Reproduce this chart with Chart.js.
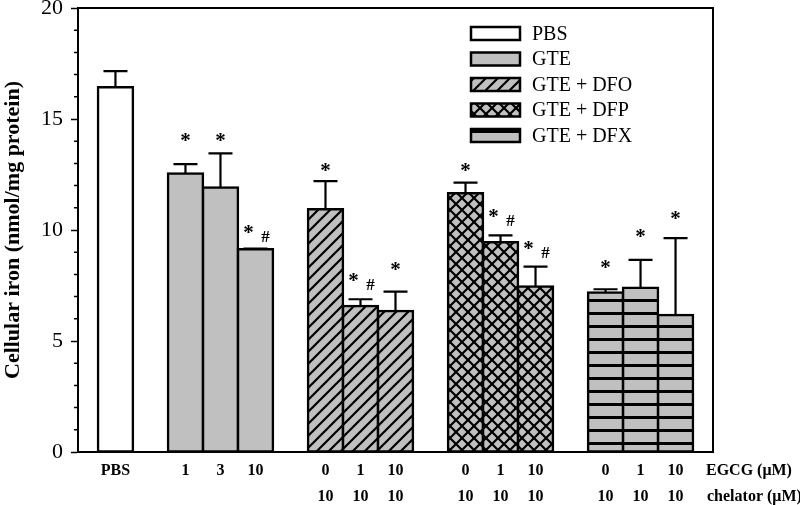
<!DOCTYPE html>
<html><head><meta charset="utf-8">
<script src="https://cdn.jsdelivr.net/npm/chart.js@4.4.0/dist/chart.umd.min.js"></script>
<style>html,body{margin:0;padding:0;background:#fff}</style>
</head><body>
<canvas id="c" width="800" height="505"></canvas>
<script>
// ---- data ----
const seriesNames = ['PBS', 'GTE', 'GTE + DFO', 'GTE + DFP', 'GTE + DFX'];
const pbsValues = [16.43];
const pbsErrors = [0.73];
const gteValues = [12.55, 11.92, 9.13];
const gteErrors = [0.42, 1.53, 0.03];
const dfoValues = [10.93, 6.58, 6.35];
const dfoErrors = [1.27, 0.30, 0.87];
const dfpValues = [11.65, 9.45, 7.45];
const dfpErrors = [0.48, 0.31, 0.90];
const dfxValues = [7.18, 7.40, 6.17];
const dfxErrors = [0.15, 1.25, 3.46];
// significance marks and the value level they sit at
const pbsMarks = [''];
const gteMarks = ['*', '*', '*#'];
const dfoMarks = ['*', '*#', '*'];
const dfpMarks = ['*', '*#', '*#'];
const dfxMarks = ['*', '*', '*'];
const pbsMarkLevels = [null];
const gteMarkLevels = [14.19, 14.19, 10.05];
const dfoMarkLevels = [12.84, 7.88, 8.38];
const dfpMarkLevels = [12.84, 10.77, 9.32];
const dfxMarkLevels = [8.47, 9.86, 10.68];
// x labels
const egcgLabels = [['PBS'], ['1', '3', '10'], ['0', '1', '10'], ['0', '1', '10'], ['0', '1', '10']];
const chelatorLabels = [[''], ['', '', ''], ['10', '10', '10'], ['10', '10', '10'], ['10', '10', '10']];
const egcgTitle = 'EGCG (\u03bcM)';
const chelatorTitle = 'chelator (\u03bcM)';
const yTicks = [0, 5, 10, 15, 20];
const yTitle = 'Cellular iron (nmol/mg protein)';

// ---- build ----
const allValues = [pbsValues, gteValues, dfoValues, dfpValues, dfxValues];
const allErrors = [pbsErrors, gteErrors, dfoErrors, dfpErrors, dfxErrors];
const allMarks = [pbsMarks, gteMarks, dfoMarks, dfpMarks, dfxMarks];
const allMarkLevels = [pbsMarkLevels, gteMarkLevels, dfoMarkLevels, dfpMarkLevels, dfxMarkLevels];

// slot index: bars of a group are adjacent, one empty slot between groups
const slots = [];
let s = 0;
allValues.forEach(g => { const arr = []; g.forEach(() => { arr.push(s); s++; }); slots.push(arr); s++; });
const flatSlots = slots.flat();
const edgeGap = 0.57;
const xMin = flatSlots[0] - 0.5 - edgeGap;
const xMax = flatSlots[flatSlots.length - 1] + 0.5 + edgeGap;

const GRAY = '#c0c0c0';
function makePattern(kind) {
  if (kind === 'white') return '#ffffff';
  if (kind === 'gray') return GRAY;
  const c = document.createElement('canvas');
  const w = kind === 'hlines' ? 4 : 12;
  const h = kind === 'hlines' ? 13 : 12;
  c.width = w; c.height = h;
  const g = c.getContext('2d');
  g.fillStyle = GRAY;
  g.fillRect(0, 0, w, h);
  g.strokeStyle = '#000'; g.fillStyle = '#000';
  g.lineWidth = 2.2;
  if (kind === 'diag' || kind === 'cross') {
    g.beginPath();
    g.moveTo(0, 12); g.lineTo(12, 0);
    g.moveTo(-6, 6); g.lineTo(6, -6);
    g.moveTo(6, 18); g.lineTo(18, 6);
    g.stroke();
  }
  if (kind === 'cross') {
    g.beginPath();
    g.moveTo(0, 0); g.lineTo(12, 12);
    g.moveTo(-6, 6); g.lineTo(6, 18);
    g.moveTo(6, -6); g.lineTo(18, 6);
    g.stroke();
  }
  if (kind === 'hlines') {
    g.fillRect(0, 0, w, 3);
  }
  return g.createPattern(c, 'repeat');
}
const fills = [makePattern('white'), makePattern('gray'), makePattern('diag'), makePattern('cross'), makePattern('hlines')];

const datasets = seriesNames.map((name, d) => ({
  label: name,
  data: allValues[d].map((v, i) => ({ x: slots[d][i], y: v })),
  backgroundColor: fills[d],
  borderColor: '#000',
  borderWidth: 2.5,
  inflateAmount: 1.25,
  borderSkipped: false,
  grouped: false,
  barPercentage: 1,
  categoryPercentage: 1
}));

const SERIF = "'Liberation Serif', 'Times New Roman', serif";

const decorPlugin = {
  id: 'decor',
  afterDatasetsDraw(chart) {
    const ctx = chart.ctx;
    const ca = chart.chartArea;
    const ys = chart.scales.y;
    ctx.save();
    // frame top & right
    ctx.strokeStyle = '#000';
    ctx.lineWidth = 2;
    ctx.beginPath();
    ctx.moveTo(ca.left, ca.top); ctx.lineTo(ca.right, ca.top); ctx.lineTo(ca.right, ca.bottom);
    ctx.stroke();
    // minor y ticks
    ctx.lineWidth = 1.5;
    ctx.beginPath();
    for (let v = ys.min; v <= ys.max; v++) {
      if (yTicks.includes(v)) continue;
      const y = ys.getPixelForValue(v);
      ctx.moveTo(ca.left - 4, y); ctx.lineTo(ca.left, y);
    }
    ctx.stroke();
    // error bars
    ctx.lineWidth = 2.2;
    allValues.forEach((vals, d) => {
      const meta = chart.getDatasetMeta(d);
      vals.forEach((v, i) => {
        const bar = meta.data[i];
        const y0 = ys.getPixelForValue(v);
        const y1 = ys.getPixelForValue(v + allErrors[d][i]);
        ctx.beginPath();
        ctx.moveTo(bar.x, y0); ctx.lineTo(bar.x, y1);
        ctx.moveTo(bar.x - 12, y1); ctx.lineTo(bar.x + 12, y1);
        ctx.stroke();
      });
    });
    // significance marks
    ctx.fillStyle = '#000';
    ctx.textBaseline = 'alphabetic';
    ctx.textAlign = 'center';
    allMarks.forEach((marks, d) => {
      const meta = chart.getDatasetMeta(d);
      marks.forEach((m, i) => {
        if (!m) return;
        const bar = meta.data[i];
        const y = ys.getPixelForValue(allMarkLevels[d][i]);
        if (m === '*') {
          ctx.font = 'bold 21px ' + SERIF;
          ctx.fillText('*', bar.x, y + 10);
        } else {
          ctx.font = 'bold 21px ' + SERIF;
          ctx.fillText('*', bar.x - 7, y + 10);
          ctx.font = 'bold 17px ' + SERIF;
          ctx.fillText('#', bar.x + 10, y + 13);
        }
      });
    });
    // x labels
    ctx.font = 'bold 16px ' + SERIF;
    ctx.textBaseline = 'middle';
    ctx.textAlign = 'center';
    allValues.forEach((vals, d) => {
      const meta = chart.getDatasetMeta(d);
      vals.forEach((v, i) => {
        const x = meta.data[i].x;
        ctx.fillText(egcgLabels[d][i], x, ca.bottom + 19);
        if (chelatorLabels[d][i]) ctx.fillText(chelatorLabels[d][i], x, ca.bottom + 45);
      });
    });
    ctx.textAlign = 'left';
    ctx.fillText(egcgTitle, ca.right - 7, ca.bottom + 19);
    ctx.fillText(chelatorTitle, ca.right - 6, ca.bottom + 45);
    // legend
    const lx = ca.left + 393, ly = ca.top + 25.5;
    seriesNames.forEach((name, d) => {
      const cy = ly + d * 25.5;
      ctx.fillStyle = fills[d];
      ctx.fillRect(lx, cy - 6.5, 49, 13);
      ctx.strokeStyle = '#000';
      ctx.lineWidth = 2.5;
      ctx.strokeRect(lx, cy - 6.5, 49, 13);
      ctx.fillStyle = '#000';
      ctx.font = '20px ' + SERIF;
      ctx.textAlign = 'left';
      ctx.textBaseline = 'middle';
      ctx.fillText(name, lx + 61, cy + 1);
    });
    ctx.restore();
  }
};

new Chart(document.getElementById('c'), {
  type: 'bar',
  data: { datasets },
  options: {
    responsive: false,
    animation: false,
    layout: { padding: { left: 0, top: 8, right: 87, bottom: 0 } },
    plugins: { legend: { display: false }, tooltip: { enabled: false } },
    scales: {
      x: {
        type: 'linear',
        offset: false,
        min: xMin, max: xMax,
        afterBuildTicks: sc => { sc.ticks = flatSlots.map(v => ({ value: v })); },
        afterFit: sc => { sc.height = 53; sc.paddingLeft = 0; sc.paddingRight = 0; },
        ticks: { display: false },
        grid: { display: false, offset: false },
        border: { display: true, color: '#000', width: 2 }
      },
      y: {
        min: 0, max: 20,
        afterFit: sc => { sc.width = 78; sc.paddingTop = 0; sc.paddingBottom = 0; },
        ticks: {
          stepSize: 1, autoSkip: false,
          callback: v => yTicks.includes(v) ? String(v) : '',
          color: '#000', padding: 8,
          font: { family: SERIF, size: 22 }
        },
        grid: {
          drawOnChartArea: false, drawTicks: true, tickLength: 7, tickWidth: 1.5,
          tickColor: c => (c.tick && yTicks.includes(c.tick.value)) ? '#000' : 'rgba(0,0,0,0)'
        },
        border: { display: true, color: '#000', width: 2 },
        title: {
          display: true, text: yTitle, color: '#000',
          font: { family: SERIF, size: 22, weight: 'bold' },
          padding: { top: 0, bottom: 0 }
        }
      }
    }
  },
  plugins: [decorPlugin]
});
</script>
</body></html>
